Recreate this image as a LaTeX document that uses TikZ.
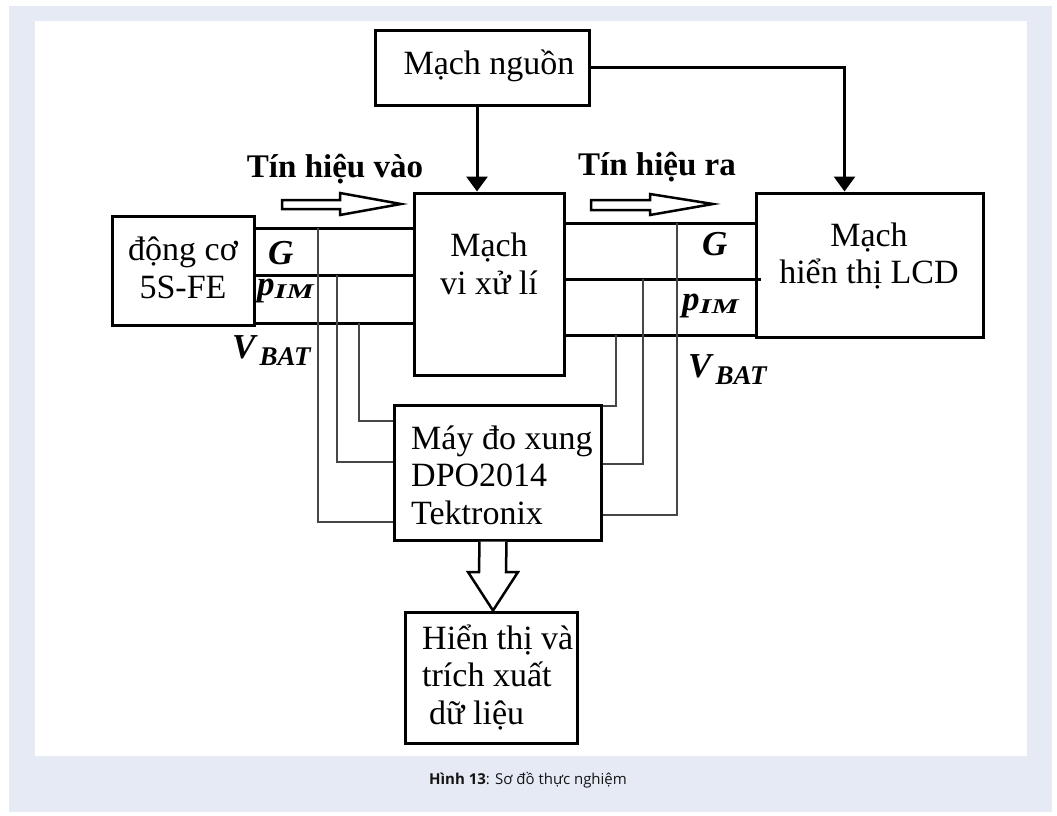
\documentclass[tikz,border=0pt]{standalone}
\usepackage{fontspec}
\setmainfont{Liberation Serif}
\newfontfamily\capfont{Open Sans}
\usetikzlibrary{arrows.meta}
\definecolor{pagebg}{RGB}{230,234,245}
\definecolor{wirecol}{RGB}{70,70,70}
\definecolor{captext}{RGB}{20,20,20}
\tikzset{
  blk/.style={draw=black, line width=3pt, fill=white, inner sep=0pt},
  txt/.style={font=\fontsize{34}{37.5}\selectfont, inner sep=0pt},
  head/.style={font=\fontsize{33}{33}\selectfont\bfseries, inner sep=0pt, anchor=base},
  sl/.style={font=\fontsize{35}{35}\selectfont\bfseries\itshape, anchor=base west, inner sep=0pt},
  sig/.style={line width=3pt},
  wire/.style={draw=wirecol, line width=1.1pt},
  pwr/.style={line width=3pt, -{Triangle[width=21pt,length=15pt]}},
  hollow/.style={draw=black, line width=2.5pt, fill=white, line join=miter}
}
\begin{document}
\begin{tikzpicture}[x=1pt,y=-1pt]
\useasboundingbox (0,0) rectangle (1057,816);
% page and panel
\fill[pagebg] (9,6) rectangle (1052,812);
\fill[white] (35,21) rectangle (1027,756);

% blocks
\node[blk, minimum width=214pt, minimum height=74pt] (psu) at (482,68) {};
\node[blk, minimum width=150pt, minimum height=182pt] (mcu) at (489,284) {};
\node[blk, minimum width=227pt, minimum height=144pt] (lcd) at (869.5,265) {};
\node[blk, minimum width=142pt, minimum height=109pt] (eng) at (183,270.5) {};
\node[blk, minimum width=207pt, minimum height=135pt] (osc) at (497.5,472.5) {};
\node[blk, minimum width=172pt, minimum height=131pt] (disp) at (491,677.5) {};

% block texts
\node[txt] (psuT) at (489,66) {Mạch nguồn};
\node[txt, align=center] (mcuT) at (489,264) {Mạch\\vi xử lí};
\node[txt, align=center] (lcdT) at (869,256) {Mạch\\hiển thị LCD};
\node[txt, align=center] (engT) at (183,268) {động cơ\\5S-FE};
\node[txt, align=left, anchor=west] (oscT) at (411,475) {Máy đo xung\\DPO2014\\Tektronix};
\node[txt, align=left, anchor=west] (dispT) at (422,677) {Hiển thị và\\trích xuất\\\hspace*{7pt}dữ liệu};

% signal buses engine -> processor
\draw[sig] (eng.east |- 0,228) -- (mcu.west |- 0,228);
\draw[sig] (eng.east |- 0,275) -- (mcu.west |- 0,275);
\draw[sig] (eng.east |- 0,323) -- (mcu.west |- 0,323);
% signal buses processor -> LCD
\draw[sig] (mcu.east |- 0,223) -- (lcd.west |- 0,223);
\draw[sig] (mcu.east |- 0,279) -- ([xshift=6pt]lcd.west |- 0,279);
\draw[sig] (mcu.east |- 0,335) -- (lcd.west |- 0,335);

% probe taps
\coordinate (tapLG) at (318,228);
\coordinate (tapLP) at (337,275);
\coordinate (tapLV) at (359,323);
\coordinate (tapRG) at (677,223);
\coordinate (tapRP) at (643,279);
\coordinate (tapRV) at (616,335);
\draw[wire] (tapLG) |- (osc.west |- 0,522);
\draw[wire] (tapLP) |- (osc.west |- 0,462);
\draw[wire] (tapLV) |- (osc.west |- 0,421);
\draw[wire] (tapRG) |- (osc.east |- 0,515);
\draw[wire] (tapRP) |- (osc.east |- 0,464);
\draw[wire] (tapRV) |- (osc.east |- 0,406);

% power supply feeds
\draw[pwr] ([xshift=-5pt]psu.south) -- ([xshift=-5pt]psu.south |- mcu.north);
\draw[pwr] (psu.east) -| ([xshift=-25pt]lcd.north);

% signal direction arrows
\node[head] (inL) at (335,177) {Tín hiệu vào};
\node[head] (outL) at (657,175) {Tín hiệu ra};
\draw[hollow] (282,200) -- (340,200) -- (340,193) -- (401,204) -- (340,215) -- (340,209) -- (282,209) -- cycle;
\draw[hollow] (591,200) -- (650,200) -- (650,194) -- (713,204) -- (650,215) -- (650,210) -- (591,210) -- cycle;
\draw[hollow] ([xshift=-18pt]osc.south) -- (479,572) -- (468,572) -- ([xshift=2pt]disp.north) -- (518,572) -- (506,572) -- ([xshift=9pt]osc.south);

% signal names
\node[sl] (gL) at (268,264) {G};
\node[sl] (pL) at (257,295) {p\raisebox{-3pt}{\fontsize{21}{21}\selectfont\scalebox{1.45}[1]{IM}}};
\node[sl] (vL) at (232,358) {V\hspace{4pt}\raisebox{-7pt}{\fontsize{27}{27}\selectfont BAT}};
\node[sl] (gR) at (702,255) {G};
\node[sl] (pR) at (682,310) {p\raisebox{-3pt}{\fontsize{21}{21}\selectfont\scalebox{1.45}[1]{IM}}};
\node[sl] (vR) at (688,377) {V\hspace{4pt}\raisebox{-7pt}{\fontsize{27}{27}\selectfont BAT}};

% caption
\node[font=\capfont\fontsize{15}{15}\selectfont, text=captext] (cap) at (528,780) {\textbf{Hình 13}: Sơ đồ thực nghiệm};
\end{tikzpicture}
\end{document}
